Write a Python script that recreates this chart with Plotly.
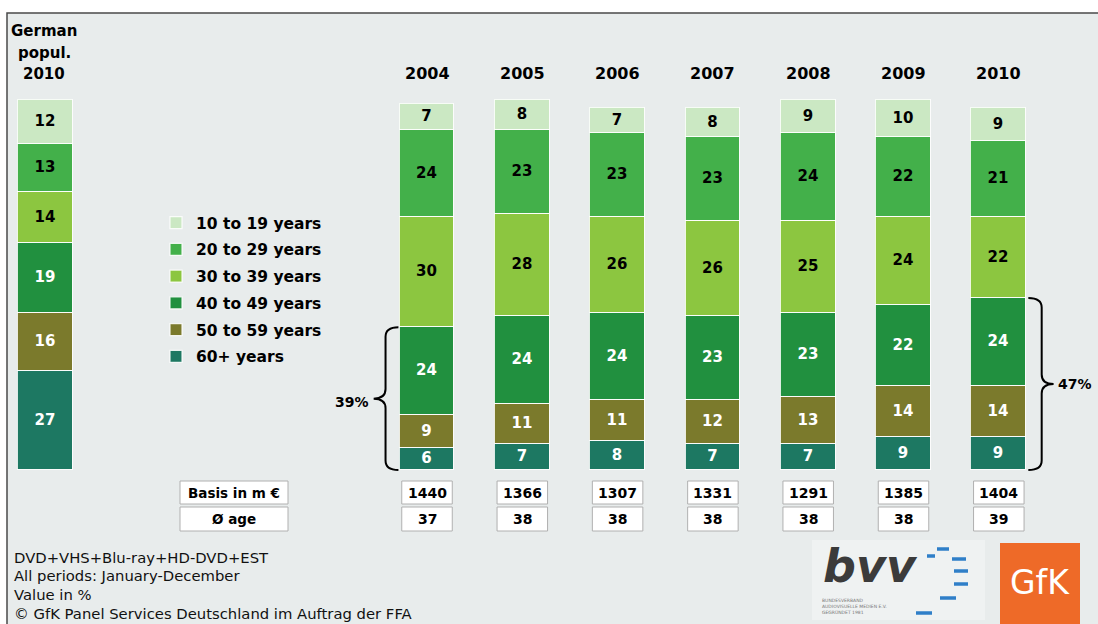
import plotly.graph_objects as go

W, H = 1098, 624

# ---------------- data ----------------
age_groups = ["60+ years", "50 to 59 years", "40 to 49 years",
              "30 to 39 years", "20 to 29 years", "10 to 19 years"]
years = ["2004", "2005", "2006", "2007", "2008", "2009", "2010"]
german_label_lines = ["German", "popul.", "2010"]

german_popul = [27, 16, 19, 14, 13, 12]  # bottom -> top

v_60plus = [6, 7, 8, 7, 7, 9, 9]
v_50_59 = [9, 11, 11, 12, 13, 14, 14]
v_40_49 = [24, 24, 24, 23, 23, 22, 24]
v_30_39 = [30, 28, 26, 26, 25, 24, 22]
v_20_29 = [24, 23, 23, 23, 24, 22, 21]
v_10_19 = [7, 8, 7, 8, 9, 10, 9]
series = [v_60plus, v_50_59, v_40_49, v_30_39, v_20_29, v_10_19]

basis_m_eur = [1440, 1366, 1307, 1331, 1291, 1385, 1404]
avg_age = [37, 38, 38, 38, 38, 38, 39]
table_labels = ["Basis in m €", "Ø age"]

footer_lines = ["DVD+VHS+Blu-ray+HD-DVD+EST",
                "All periods: January-December",
                "Value in %",
                "© GfK Panel Services Deutschland im Auftrag der FFA"]

# ---------------- styles ----------------
colors = ["#1d7862", "#7b7a2c", "#21903f", "#8cc640", "#43b04a", "#cbe8c3"]
text_colors = ["white", "white", "white", "black", "black", "black"]
FONT = "DejaVu Sans"
BG = "#e8ecec"

# category positions: German bar at 0, years at 4..10
positions = [0] + [4 + i for i in range(len(years))]

X0_PX, X_SCALE = 45.8, 95.3
Y0_PX, Y_SCALE = 470.0, 3.66


def px(x):
    return x / W


def py(y):
    return 1 - y / H


x_range = [(0 - X0_PX) / X_SCALE, (W - X0_PX) / X_SCALE]
y_range = [(Y0_PX - H) / Y_SCALE, (Y0_PX - 0) / Y_SCALE]

fig = go.Figure()
n = len(age_groups)
for i, name in enumerate(age_groups):
    vals = [german_popul[i]] + series[i]
    fig.add_trace(go.Bar(
        x=positions, y=vals, name=name, legendgroup=name, legendrank=n - i,
        width=0.575,
        marker=dict(color=colors[i], line=dict(color="rgba(255,255,255,0.85)", width=1.2)),
        text=vals, texttemplate="%{text}", textposition="inside",
        insidetextanchor="middle", textangle=0, constraintext="none",
        textfont=dict(family=FONT, size=15, color=text_colors[i], weight="bold"),
        hoverinfo="skip",
    ))

shapes = []
annotations = []

# frame / background
shapes.append(dict(type="rect", xref="paper", yref="paper", x0=px(7), x1=px(W + 5),
                   y0=py(H + 5), y1=py(13), fillcolor=BG,
                   line=dict(color="#4a4a4a", width=1.5), layer="below"))

# year labels
for p, yr in zip(positions[1:], years):
    annotations.append(dict(x=p, y=py(73), xref="x", yref="paper", text=yr,
                            showarrow=False, xanchor="center", yanchor="middle",
                            font=dict(family=FONT, size=16, color="black", weight="bold")))
for k, line in enumerate(german_label_lines):
    annotations.append(dict(x=px(44), y=py(31 + 21.5 * k), xref="paper", yref="paper", text=line,
                            showarrow=False, xanchor="center", yanchor="middle",
                            font=dict(family=FONT, size=15, color="black", weight="bold")))

# table rows
rows = [(481, 504), (507, 531)]
for (ya, yb), label in zip(rows, table_labels):
    shapes.append(dict(type="rect", xref="paper", yref="paper", x0=px(180), x1=px(288),
                       y0=py(yb), y1=py(ya), fillcolor="white",
                       line=dict(color="#b0b0b0", width=1)))
    annotations.append(dict(x=px(234), y=py((ya + yb) / 2), xref="paper", yref="paper",
                            text=label, showarrow=False, xanchor="center", yanchor="middle",
                            font=dict(family=FONT, size=13.5, color="black", weight="bold")))
for p, b, a in zip(positions[1:], basis_m_eur, avg_age):
    for (ya, yb), val in zip(rows, [b, a]):
        shapes.append(dict(type="rect", xref="x", yref="paper", x0=p - 0.265, x1=p + 0.265,
                           y0=py(yb), y1=py(ya), fillcolor="white",
                           line=dict(color="#b0b0b0", width=1)))
        annotations.append(dict(x=p, y=py((ya + yb) / 2), xref="x", yref="paper",
                                text=str(val), showarrow=False, xanchor="center", yanchor="middle",
                                font=dict(family=FONT, size=14, color="black", weight="bold")))


# curly braces (data coords)
def brace(x_end, x_v, x_tip, y0, y1):
    ym = (y0 + y1) / 2
    d = 2.6
    return (f"M {x_end},{y1} Q {x_v},{y1} {x_v},{y1 - d} "
            f"L {x_v},{ym + d} Q {x_v},{ym} {x_tip},{ym} "
            f"Q {x_v},{ym} {x_v},{ym - d} "
            f"L {x_v},{y0 + d} Q {x_v},{y0} {x_end},{y0}")


low3_2004 = v_60plus[0] + v_50_59[0] + v_40_49[0]
low3_2010 = v_60plus[-1] + v_50_59[-1] + v_40_49[-1]
shapes.append(dict(type="path", xref="x", yref="y",
                   path=brace(3.70, 3.565, 3.44, 0, low3_2004),
                   line=dict(color="black", width=2)))
shapes.append(dict(type="path", xref="x", yref="y",
                   path=brace(10.31, 10.45, 10.575, 0, low3_2010),
                   line=dict(color="black", width=2)))
annotations.append(dict(x=3.41, y=low3_2004 / 2 - 0.8, xref="x", yref="y", text=f"{low3_2004}%",
                        showarrow=False, xanchor="right", yanchor="middle",
                        font=dict(family=FONT, size=14, color="black", weight="bold")))
annotations.append(dict(x=10.6, y=low3_2010 / 2, xref="x", yref="y", text=f"{low3_2010}%",
                        showarrow=False, xanchor="left", yanchor="middle",
                        font=dict(family=FONT, size=14, color="black", weight="bold")))

# footer
for k, line in enumerate(footer_lines):
    annotations.append(dict(x=px(12), y=py(557 + 18.7 * k), xref="paper", yref="paper",
                            text=line, showarrow=False, xanchor="left", yanchor="middle",
                            font=dict(family=FONT, size=14.8, color="#111")))

# bvv logo
shapes.append(dict(type="rect", xref="paper", yref="paper", x0=px(812), x1=px(985),
                   y0=py(620), y1=py(540), fillcolor="rgba(255,255,255,0.3)", line=dict(width=0)))
annotations.append(dict(x=px(870), y=py(566), xref="paper", yref="paper", text="<i>bvv</i>",
                        showarrow=False, xanchor="center", yanchor="middle",
                        font=dict(family=FONT, size=46, color="#3b3b3b", weight="bold")))
annotations.append(dict(x=px(820), y=py(606), xref="paper", yref="paper",
                        text="BUNDESVERBAND<br>AUDIOVISUELLE MEDIEN E.V.<br>GEGRÜNDET 1981",
                        showarrow=False, xanchor="left", yanchor="middle", align="left",
                        font=dict(family=FONT, size=4.5, color="#777")))
for (cx, cy, w) in [(943, 549, 12), (931, 556, 8), (959, 559, 14), (961, 571, 14),
                    (961, 584, 14), (948, 598, 16), (924, 613, 16)]:
    shapes.append(dict(type="line", xref="paper", yref="paper", x0=px(cx - w / 2), x1=px(cx + w / 2),
                       y0=py(cy), y1=py(cy), line=dict(color="#2f7fc8", width=3.5)))

# GfK logo
shapes.append(dict(type="rect", xref="paper", yref="paper", x0=px(1000), x1=px(1080),
                   y0=py(H + 5), y1=py(543), fillcolor="#ee6a28", line=dict(width=0)))
annotations.append(dict(x=px(1040), y=py(582), xref="paper", yref="paper", text="GfK",
                        showarrow=False, xanchor="center", yanchor="middle",
                        font=dict(family=FONT, size=33, color="white")))

fig.update_layout(
    width=W, height=H,
    margin=dict(l=0, r=0, t=0, b=0),
    barmode="stack",
    paper_bgcolor="white",
    plot_bgcolor="rgba(0,0,0,0)",
    xaxis=dict(range=x_range, visible=False, fixedrange=True),
    yaxis=dict(range=y_range, visible=False, fixedrange=True),
    showlegend=True,
    legend=dict(x=px(156), y=py(206), xanchor="left", yanchor="top",
                traceorder="grouped", tracegroupgap=3.6,
                bgcolor="rgba(0,0,0,0)", itemwidth=30,
                font=dict(family=FONT, size=15.5, color="black", weight="bold")),
    shapes=shapes,
    annotations=annotations,
    bargap=0,
)

fig.write_html("out.html", config={"displayModeBar": False},
               post_script="document.body.style.margin='0';document.body.style.overflow='hidden';")
